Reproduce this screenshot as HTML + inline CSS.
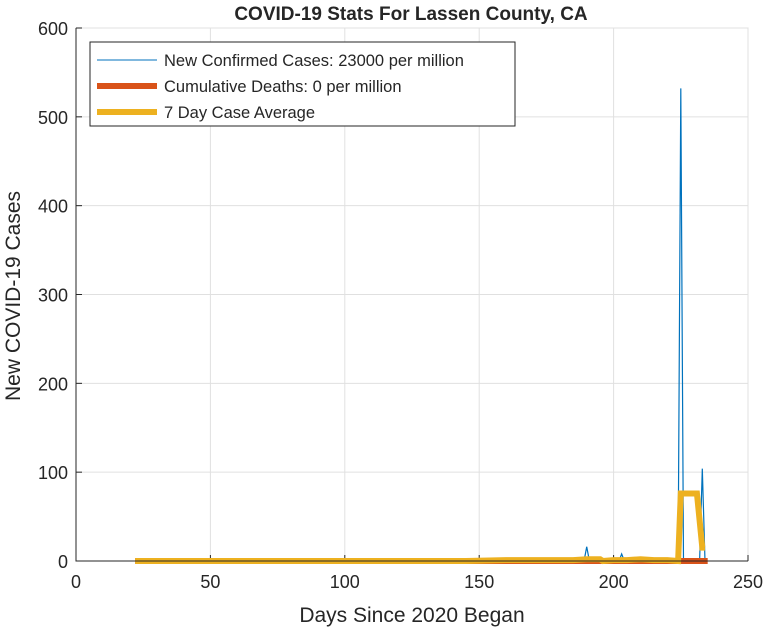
<!DOCTYPE html>
<html><head><meta charset="utf-8"><style>
body{margin:0;background:#fff;font-family:"Liberation Sans",Arial,sans-serif}
svg text{font-family:"Liberation Sans",Arial,sans-serif;fill:#262626}
</style></head><body>
<svg id="chart" width="772" height="630"></svg>
<script>
const xTicks=[0,50,100,150,200,250];
const yTicks=[0,100,200,300,400,500,600];
const caseDays=[22,150,188,189,190,191,201,202,203,204,224,225,226,232,233,234];
const caseValues=[0,0,0,0,16,0,0,0,8,0,0,532,0,0,104,0];
const deathDays=[22,185,235];
const deathValues=[0,0,0];
const avgDays=[22,145,160,185,190,195,196,200,205,210,215,220,224,225,231,233,234];
const avgValues=[0,0,1,1,2,2,0,1,1,2,1,1,0,76,76,15,15];
const legendLabels=["New Confirmed Cases: 23000 per million","Cumulative Deaths: 0 per million","7 Day Case Average"];

const NS="http://www.w3.org/2000/svg";
const svg=document.getElementById('chart');
const L=76,R=748,T=28,B=561;
const xs=d=>L+(d-0)/250*(R-L);
const ys=v=>B-v/600*(B-T);
function mk(tag,attrs,parent){const e=document.createElementNS(NS,tag);for(const k in attrs)e.setAttribute(k,attrs[k]);(parent||svg).appendChild(e);return e;}

mk('rect',{x:L,y:T,width:R-L,height:B-T,fill:'#fff',stroke:'#dcdcdc'});
xTicks.forEach(t=>{
  const g=mk('line',{x1:xs(t),x2:xs(t),y1:T,y2:B,stroke:'#e0e0e0'});
  
  
  const tk=mk('line',{x1:xs(t),x2:xs(t),y1:B,y2:B-6,stroke:'#262626'});
  
  
  const lb=mk('text',{x:xs(t),y:B+27,'text-anchor':'middle','font-size':18});
  lb.textContent=t;
  
  
});
yTicks.forEach(t=>{
  const g=mk('line',{x1:L,x2:R,y1:ys(t),y2:ys(t),stroke:'#e0e0e0'});
  
  
  const tk=mk('line',{x1:L,x2:L+6,y1:ys(t),y2:ys(t),stroke:'#262626'});
  
  
  const lb=mk('text',{x:L-8,y:ys(t)+7,'text-anchor':'end','font-size':18});
  lb.textContent=t;
  
  
});
function line(days,vals,color,w,name){
  const p=mk('polyline',{points:days.map((d,i)=>xs(d)+','+ys(vals[i])).join(' '),fill:'none',stroke:color,'stroke-width':w,'stroke-linejoin':'miter'});
  
  
}
line(caseDays,caseValues,'#0072bd',1.2,'new-cases-line');
line(deathDays,deathValues,'#d95319',6,'deaths-line');
line(avgDays,avgValues,'#edb120',6,'avg-line');
const ax=mk('polyline',{points:`${L},${T} ${L},${B} ${R},${B}`,fill:'none',stroke:'#262626','stroke-width':1});



const lg=mk('g',{});


mk('rect',{x:90,y:42,width:425,height:84,fill:'#fff',stroke:'#262626'},lg);
const cols=['#0072bd','#d95319','#edb120'],ws=[1,6,6];
legendLabels.forEach((s,i)=>{
  const y=60+i*26;
  mk('line',{x1:97,x2:157,y1:y,y2:y,stroke:cols[i],'stroke-width':ws[i]},lg);
  const t=mk('text',{x:164,y:y+6,'font-size':16.5},lg);
  t.textContent=s;
  
  
});
const ti=mk('text',{x:411,y:20,'text-anchor':'middle','font-size':19,'font-weight':'bold'});
ti.textContent='COVID-19 Stats For Lassen County, CA';


const xl=mk('text',{x:412,y:622,'text-anchor':'middle','font-size':21});
xl.textContent='Days Since 2020 Began';


const yl=mk('text',{x:0,y:0,'text-anchor':'middle','font-size':21,transform:'translate(20,296) rotate(-90)'});
yl.textContent='New COVID-19 Cases';


</script>
</body></html>
